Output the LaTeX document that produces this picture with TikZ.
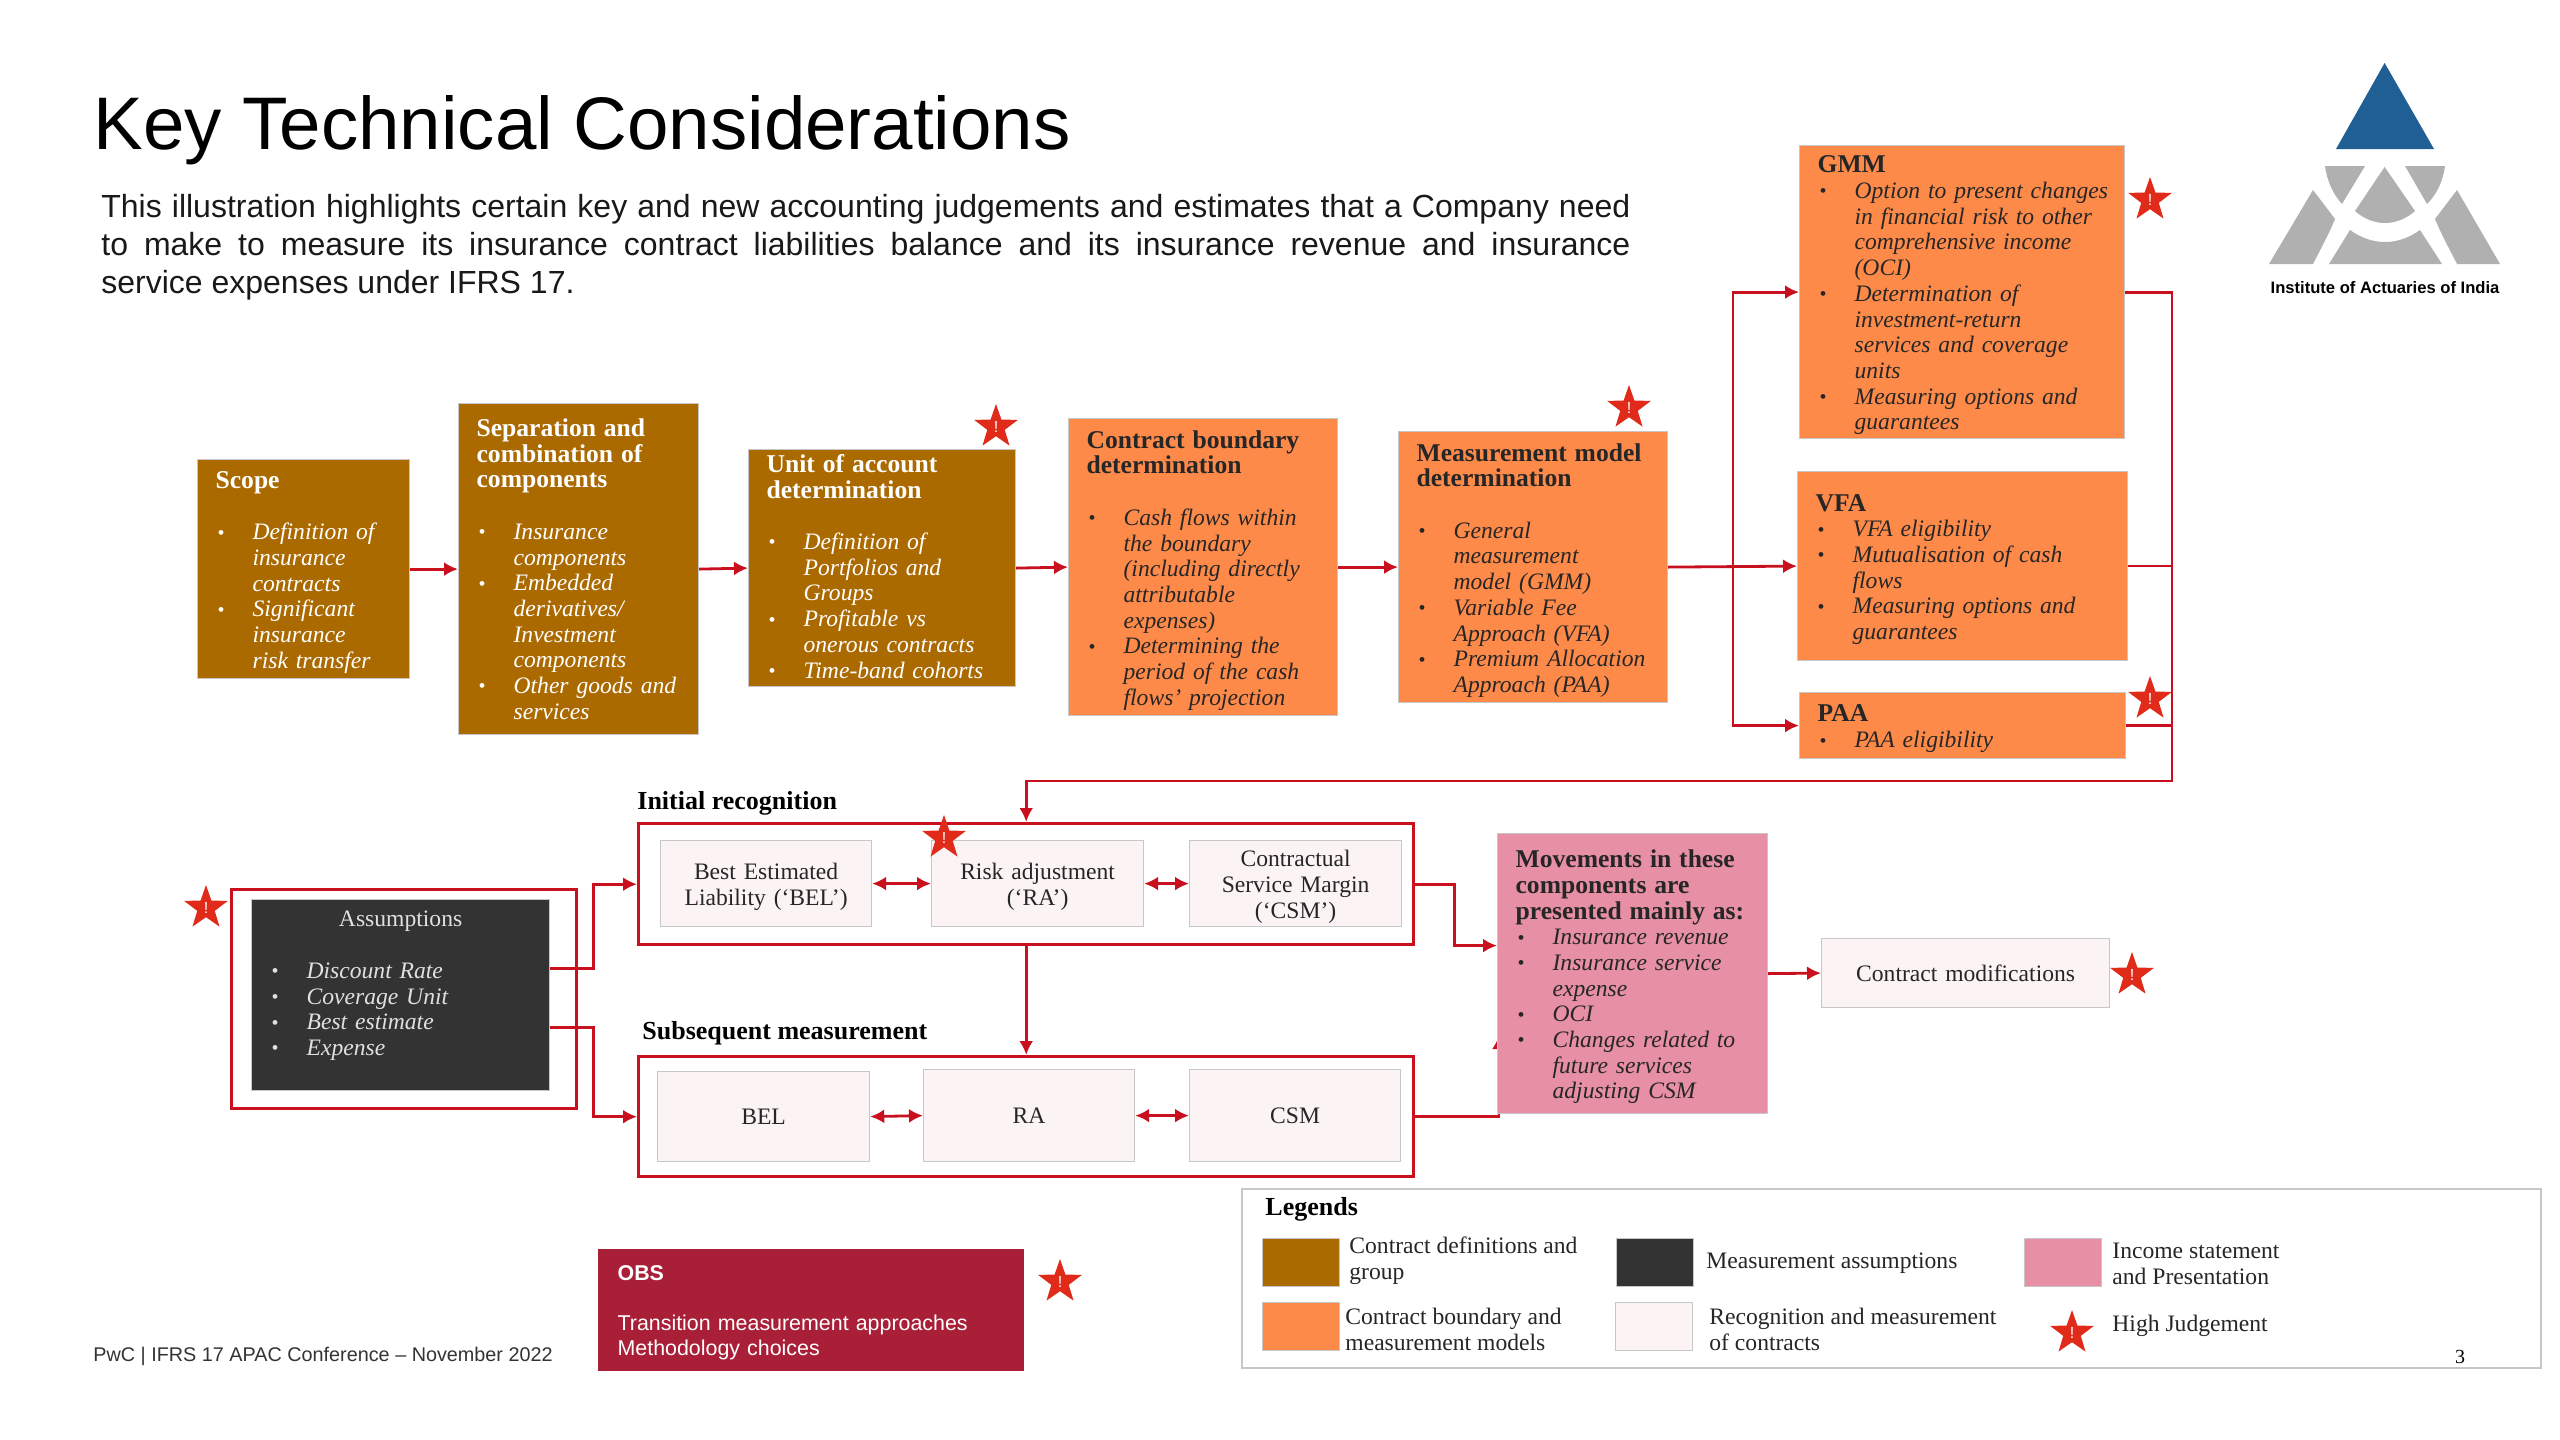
\documentclass[tikz,border=0pt]{standalone}
\usepackage{fontspec}
\setmainfont{Liberation Serif}
\setsansfont{Liberation Sans}
\usetikzlibrary{arrows.meta,shapes.geometric}
\definecolor{brownfill}{HTML}{AB6A00}
\definecolor{orangefill}{HTML}{FE8A4A}
\definecolor{pinkfill}{HTML}{E78FA4}
\definecolor{darkfill}{HTML}{333333}
\definecolor{lightfill}{HTML}{FCF4F4}
\definecolor{linered}{HTML}{C8101E}
\definecolor{obsred}{HTML}{A91F38}
\definecolor{starred}{HTML}{E02B1B}
\definecolor{logoblue}{HTML}{1F5F93}
\definecolor{logogrey}{HTML}{B0B0B0}
\newcommand{\bitem}[1]{\par\noindent\hangindent=18.5pt\hangafter=1\rightskip=-12pt plus 1fil\hbox to 18.5pt{\hspace{1pt}\raisebox{0.3pt}{\normalsize\textbullet}\hfil}\textit{#1}\par}
\newcommand{\boxhead}[1]{{\fontsize{12.8}{12.85}\selectfont\bfseries #1}\par}
\tikzset{
  boxsize/.style 2 args={
    minimum width=#1*0.5pt,
    minimum height=#2*0.5pt,
    text width=#1*0.5pt-18pt
  },
  tbox/.style={
    shape = rectangle,
    anchor = north west,
    draw = black!22,
    line width = 0.6pt,
    inner xsep = 9pt,
    inner ysep = 0pt,
    align = left,
    font = \fontsize{11.8}{12.85}\selectfont,
    execute at end node = {\par\vspace*{-3.3pt}}
  },
  brownbox/.style={tbox, fill=brownfill, text=white},
  orangebox/.style={tbox, fill=orangefill, text=black!85},
  pinkbox/.style={tbox, fill=pinkfill, text=black!85},
  darkbox/.style={tbox, fill=darkfill, text=white!88!black},
  lightbox/.style={tbox, fill=lightfill, text=black!85, align=center, inner xsep=2pt},
  frame/.style={
    shape = rectangle,
    anchor = north west,
    draw = linered,
    line width = 1.7pt,
    inner sep = 0pt
  },
  conn/.style={
    draw = linered,
    line width = 1.4pt,
    -{Latex[length=7pt,width=7pt]}
  },
  twoway/.style={
    draw = linered,
    line width = 1.4pt,
    {Latex[length=7pt,width=7pt]}-{Latex[length=7pt,width=7pt]}
  },
  plainline/.style={
    draw = linered,
    line width = 1.2pt
  },
  hjstar/.style={
    shape = star,
    star points = 5,
    star point ratio = 2.5,
    fill = starred,
    text = white,
    inner sep = 0pt,
    minimum size = 23pt,
    font = \sffamily\fontsize{8}{8}\selectfont
  },
  swatch/.style={
    shape = rectangle,
    anchor = north west,
    draw = black!22,
    line width = 0.6pt,
    inner sep = 0pt,
    minimum width = 38.5pt,
    minimum height = 24pt
  },
  legendtext/.style={
    anchor = west,
    align = left,
    inner sep = 0pt,
    text = black!85,
    font = \fontsize{11.8}{13}\selectfont
  },
  boldlabel/.style={
    anchor = west,
    inner sep = 0pt,
    font = \fontsize{13}{13}\selectfont\bfseries
  }
}

\begin{document}
\begin{tikzpicture}[x=0.5pt,y=-0.5pt]
    \path[use as bounding box, fill=white] (0,0) rectangle (2560,1440);
    \node[anchor=base west, inner sep=0pt, font=\sffamily\fontsize{37.25}{40}\selectfont] (title) at (93,149) {Key Technical Considerations};
    \node[anchor=base west, inner sep=0pt, text width=764.5pt, align=justify, text=black!90, font=\sffamily\fontsize{16}{19}\selectfont] (intro) at (101,217) {This illustration highlights certain key and new accounting judgements and estimates that a Company need\linebreak to make to measure its insurance contract liabilities balance and its insurance revenue and insurance\linebreak service expenses under IFRS 17.};

    % top row
    \node[brownbox, boxsize={212}{219}] (scope) at (197,459) {\boxhead{Scope}\mbox{}\par
        \bitem{Definition of\newline insurance\newline contracts}
        \bitem{Significant\newline insurance\newline risk transfer}};
    \node[brownbox, boxsize={240}{331}] (separation) at (458,403) {\boxhead{Separation and\newline combination of\newline components}\mbox{}\par
        \bitem{Insurance\newline components}
        \bitem{Embedded\newline derivatives/\newline Investment\newline components}
        \bitem{Other goods and\newline services}\vspace*{3.3pt}};
    \node[brownbox, boxsize={267}{237}] (unit) at (748,449) {\boxhead{Unit of account\newline determination}\mbox{}\par
        \bitem{Definition of\newline Portfolios and\newline Groups}
        \bitem{Profitable vs\newline onerous contracts}
        \bitem{Time-band cohorts}\vspace*{5pt}};
    \node[orangebox, boxsize={269}{297}] (boundary) at (1068,418) {\boxhead{Contract boundary\newline determination}\mbox{}\par
        \bitem{Cash flows within\newline the boundary\newline (including directly\newline attributable\newline expenses)}
        \bitem{Determining the\newline period of the cash\newline flows' projection}};
    \node[orangebox, boxsize={269}{271}] (model) at (1398,431) {\boxhead{Measurement model\newline determination}\mbox{}\par
        \bitem{General\newline measurement\newline model (GMM)}
        \bitem{Variable Fee\newline Approach (VFA)}
        \bitem{Premium Allocation\newline Approach (PAA)}};
    \node[orangebox, boxsize={325}{293}] (gmm) at (1799,145) {\boxhead{GMM}
        \bitem{Option to present changes\newline in financial risk to other\newline comprehensive income\newline (OCI)}
        \bitem{Determination of\newline investment-return\newline services and coverage\newline units}
        \bitem{Measuring options and\newline guarantees}};
    \node[orangebox, boxsize={330}{189}] (vfa) at (1797,471) {\boxhead{VFA}
        \bitem{VFA eligibility}
        \bitem{Mutualisation of cash\newline flows}
        \bitem{Measuring options and\newline guarantees}};
    \node[orangebox, boxsize={326}{66}] (paa) at (1799,692) {\boxhead{PAA}
        \bitem{PAA eligibility}};

    % recognition and measurement
    \node[boldlabel] (initlabel) at (637,803) {Initial recognition};
    \node[frame, minimum width=387.5pt, minimum height=60.5pt] (initial) at (637,822) {};
    \node[lightbox, boxsize={211}{86}] (bel) at (660,840) {Best Estimated\\Liability (`BEL')};
    \node[lightbox, boxsize={212}{86}] (ra) at (931,840) {Risk adjustment\\(`RA')};
    \node[lightbox, boxsize={212}{86}] (csm) at (1189,840) {Contractual\\Service Margin\\(`CSM')};
    \node[boldlabel] (sublabel) at (642,1033) {Subsequent measurement};
    \node[frame, minimum width=387.5pt, minimum height=60pt] (subseq) at (637,1055) {};
    \node[lightbox, boxsize={212}{90}] (bel2) at (657,1071) {BEL};
    \node[lightbox, boxsize={211}{92}] (ra2) at (923,1069) {RA};
    \node[lightbox, boxsize={211}{92}] (csm2) at (1189,1069) {CSM};

    \node[frame, minimum width=172.5pt, minimum height=109.5pt] (asmframe) at (230,888) {};
    \node[darkbox, boxsize={298}{191}] (assumptions) at (251,899) {\centerline{Assumptions}\par\mbox{}\par
        \bitem{Discount Rate}
        \bitem{Coverage Unit}
        \bitem{Best estimate}
        \bitem{Expense}\vspace*{12.5pt}};

    \draw[conn] (subseq.east) -| (1499,1035);
    \node[pinkbox, boxsize={270}{280}] (movements) at (1497,833) {\boxhead{Movements in these\newline components are\newline presented mainly as:}
        \bitem{Insurance revenue}
        \bitem{Insurance service\newline expense}
        \bitem{OCI}
        \bitem{Changes related to\newline future services\newline adjusting CSM}};
    \node[lightbox, boxsize={288}{69}] (mods) at (1821,938) {Contract modifications};

    % connectors
    \draw[conn] (scope.east) -- (separation.west);
    \draw[conn] (separation.east) -- (unit.west);
    \draw[conn] (unit.east) -- (boundary.west);
    \draw[conn] (boundary.east) -- (model.west);
    \draw[conn] (model.east) -- (vfa.west);
    \coordinate (split) at (1733,565);
    \coordinate (busbottom) at (2172,781);
    \draw[conn] (split) |- (gmm.west);
    \draw[conn] (split) |- (paa.west);
    \draw[plainline] (vfa.east) -- (vfa.east -| busbottom);
    \draw[plainline] (paa.east) -- (paa.east -| busbottom);
    \draw[conn] (gmm.east) -| (busbottom) -| (initial.north);
    \draw[conn] (initial.south) -- (subseq.north);
    \draw[twoway] (bel.east) -- (ra.west);
    \draw[twoway] (ra.east) -- (csm.west);
    \draw[twoway] (bel2.east) -- (ra2.west);
    \draw[twoway] (ra2.east) -- (csm2.west);
    \draw[conn] ([yshift=13.25pt]assumptions.east) -- ++(43,0) |- (initial.west);
    \draw[conn] ([yshift=-16.25pt]assumptions.east) -- ++(43,0) |- (subseq.west);
    \draw[conn] (initial.east) -- ++(39,0) |- ([yshift=14pt]movements.west);
    \draw[conn] (movements.east) -- (mods.west);

    % OBS and footer
    \node[tbox, draw=none, fill=obsred, text=white, boxsize={426}{122}, inner xsep=10pt, text width=193pt, font=\sffamily\fontsize{10.7}{12.6}\selectfont] (obs) at (597,1248) {\textbf{OBS}\par\mbox{}\par Transition measurement approaches\newline Methodology choices};
    \node[anchor=west, inner sep=0pt, text=black!80, font=\sffamily\fontsize{9.9}{12}\selectfont] (footer) at (93,1356) {PwC | IFRS 17 APAC Conference -- November 2022};

    % legend
    \node[shape=rectangle, anchor=north west, draw=black!22, line width=0.8pt, minimum width=649.5pt, minimum height=89.5pt] (legend) at (1241,1188) {};
    \node[boldlabel] (legendtitle) at (1265,1209) {Legends};
    \foreach \name/\x/\y/\col in {brownkey/1262/1238/brownfill, darkkey/1616/1238/darkfill, pinkkey/2024/1238/pinkfill, orangekey/1262/1302/orangefill, lightkey/1615/1302/lightfill}{
            \node[swatch, fill=\col] (\name) at (\x,\y) {};
        }
    \node[legendtext] (brownlabel) at (1349,1261) {Contract definitions and\\group};
    \node[legendtext] (darklabel) at (1706,1263) {Measurement assumptions};
    \node[legendtext] (pinklabel) at (2112,1264) {Income statement\\and Presentation};
    \node[legendtext] (orangelabel) at (1345,1329) {Contract boundary and\\measurement models};
    \node[legendtext] (lightlabel) at (1709,1329) {Recognition and measurement\\of contracts};
    \node[legendtext] (starlabel) at (2112,1326) {High Judgement};
    \node[anchor=center, inner sep=0pt, font=\fontsize{10}{10}\selectfont] (pageno) at (2460,1357) {3};

    % stars
    \foreach \i/\x/\y in {1/996/427, 2/1629/408, 3/2150/200, 4/2150/699, 5/206/908, 6/944/838, 7/2132/975, 8/1060/1282, 9/2072/1333}{
            \node[hjstar] (star\i) at (\x,\y) {!};
        }

    % logo
    \fill[logoblue] (2384.6,63) -- (2434,149) -- (2336,149) -- cycle;
    \fill[logogrey] (2325,166) -- (2365,166) -- (2342,204) .. controls (2333,194) and (2327,181) .. cycle;
    \fill[logogrey] (2405,166) -- (2445,166) .. controls (2443,181) and (2437,194) .. (2427,204) -- cycle;
    \fill[logogrey] (2384.6,167) -- (2415,211) .. controls (2397,227) and (2373,227) .. (2355,211) -- cycle;
    \fill[logogrey] (2313,190) -- (2335,219) .. controls (2328,236) and (2320,250) .. (2313,264) -- (2269,264) -- cycle;
    \fill[logogrey] (2457,190) -- (2500,264) -- (2457,264) .. controls (2450,250) and (2442,236) .. (2435,219) -- cycle;
    \fill[logogrey] (2350,230) .. controls (2372,246) and (2398,246) .. (2420,230) -- (2442,264) -- (2329,264) -- cycle;
    \node[anchor=center, inner sep=0pt, font=\sffamily\bfseries\fontsize{8.3}{9}\selectfont] (logotext) at (2385,288) {Institute of Actuaries of India};
\end{tikzpicture}
\end{document}
